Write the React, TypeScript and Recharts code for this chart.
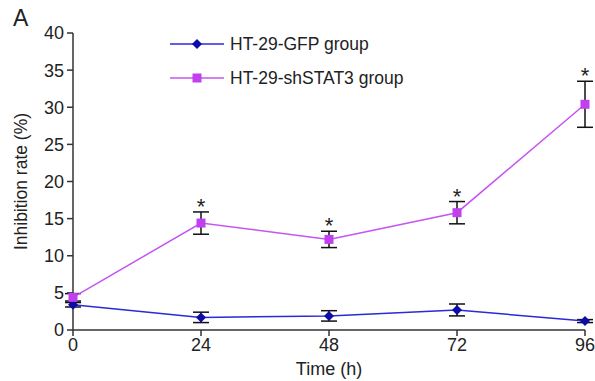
import React from "react";
import {
  LineChart,
  Line,
  XAxis,
  YAxis,
  ErrorBar,
  Legend,
  LabelList,
  Label,
} from "recharts";

if (typeof document !== "undefined") document.body.style.margin = "0";

const times = [0, 24, 48, 72, 96];
const gfpMean = [3.4, 1.7, 1.9, 2.7, 1.2];
const gfpErr = [0.3, 0.7, 0.7, 0.8, 0.2];
const shMean = [4.4, 14.4, 12.2, 15.8, 30.4];
const shErr = [0.5, 1.5, 1.1, 1.5, 3.1];
const significant = [false, true, true, true, true];
const yTicks = [0, 5, 10, 15, 20, 25, 30, 35, 40];

const GFP_LINE = "#2a2ad6";
const GFP_DOT = "#0c0ca8";
const SH_LINE = "#c455f2";
const SH_DOT = "#c040f0";
const FONT = "'Liberation Sans', Arial, sans-serif";

const data = times.map((t, i) => ({
  time: t,
  gfp: gfpMean[i],
  gfpErr: gfpErr[i],
  sh: shMean[i],
  shErr: shErr[i],
  star: significant[i] ? shMean[i] + shErr[i] : null,
}));

const Diamond = (props: any) => {
  const { cx, cy } = props;
  if (cx == null || cy == null) return null;
  const r = 5;
  return (
    <polygon
      points={`${cx},${cy - r} ${cx + r},${cy} ${cx},${cy + r} ${cx - r},${cy}`}
      fill={GFP_DOT}
    />
  );
};

const Square = (props: any) => {
  const { cx, cy } = props;
  if (cx == null || cy == null) return null;
  return <rect x={cx - 4.5} y={cy - 4.5} width={9} height={9} fill={SH_DOT} />;
};

const Star = (props: any) => {
  const { x, y, value } = props;
  if (value == null) return null;
  return (
    <text x={x} y={y + 2} textAnchor="middle" fontSize={22} fontFamily={FONT} fill="#222">
      *
    </text>
  );
};

const legendItems = [
  { name: "HT-29-GFP group", line: GFP_LINE, kind: "diamond" },
  { name: "HT-29-shSTAT3 group", line: SH_LINE, kind: "square" },
];

const LegendBox = () => (
  <svg width={290} height={60}>
    {legendItems.map((it, i) => {
      const y = 10 + i * 34;
      return (
        <g key={it.name}>
          <line x1={0} x2={54} y1={y} y2={y} stroke={it.line} strokeWidth={1.5} />
          {it.kind === "diamond" ? (
            <Diamond cx={27} cy={y} />
          ) : (
            <Square cx={27} cy={y} />
          )}
          <text x={60} y={y + 6} fontSize={17.5} fontFamily={FONT} fill="#222">
            {it.name}
          </text>
        </g>
      );
    })}
  </svg>
);

export default function App() {
  return (
    <div style={{ position: "relative", width: 595, height: 381, background: "#fff" }}>
      <div
        style={{
          position: "absolute",
          left: 13,
          top: 5,
          fontSize: 23,
          fontFamily: FONT,
          color: "#222",
        }}
      >
        A
      </div>
      <LineChart
        width={595}
        height={381}
        data={data}
        margin={{ top: 33, right: 10, left: 0, bottom: 21 }}
      >
        <XAxis
          dataKey="time"
          type="number"
          domain={[0, 96]}
          ticks={times}
          height={30}
          stroke="#333"
          strokeWidth={1.5}
          tickSize={6}
          tick={{ fontSize: 18, fill: "#222", fontFamily: FONT }}
        >
          <Label
            value="Time (h)"
            position="insideBottom"
            offset={-15}
            style={{ fontSize: 18, fill: "#222", fontFamily: FONT }}
          />
        </XAxis>
        <YAxis
          type="number"
          domain={[0, 40]}
          ticks={yTicks}
          width={73}
          stroke="#333"
          strokeWidth={1.5}
          tickSize={6}
          tickMargin={3}
          tick={{ fontSize: 18, fill: "#222", fontFamily: FONT }}
        >
          <Label
            value="Inhibition rate (%)"
            angle={-90}
            position="insideLeft"
            offset={21}
            style={{ textAnchor: "middle", fontSize: 17.5, fill: "#222", fontFamily: FONT }}
          />
        </YAxis>
        <Legend
          layout="horizontal"
          verticalAlign="middle"
          align="center"
          content={() => <LegendBox />}
          wrapperStyle={{ position: "absolute", left: 170, top: 34, width: 290 }}
        />
        <Line
          dataKey="gfp"
          name="HT-29-GFP group"
          stroke={GFP_LINE}
          strokeWidth={1.5}
          dot={<Diamond />}
          activeDot={false}
          isAnimationActive={false}
        >
          <ErrorBar dataKey="gfpErr" direction="y" width={8} stroke="#111" strokeWidth={1.5} />
        </Line>
        <Line
          dataKey="sh"
          name="HT-29-shSTAT3 group"
          stroke={SH_LINE}
          strokeWidth={1.5}
          dot={<Square />}
          activeDot={false}
          isAnimationActive={false}
        >
          <ErrorBar dataKey="shErr" direction="y" width={8} stroke="#111" strokeWidth={1.5} />
        </Line>
        <Line
          dataKey="star"
          stroke="none"
          dot={false}
          activeDot={false}
          legendType="none"
          isAnimationActive={false}
        >
          <LabelList dataKey="star" content={<Star />} />
        </Line>
      </LineChart>
    </div>
  );
}
